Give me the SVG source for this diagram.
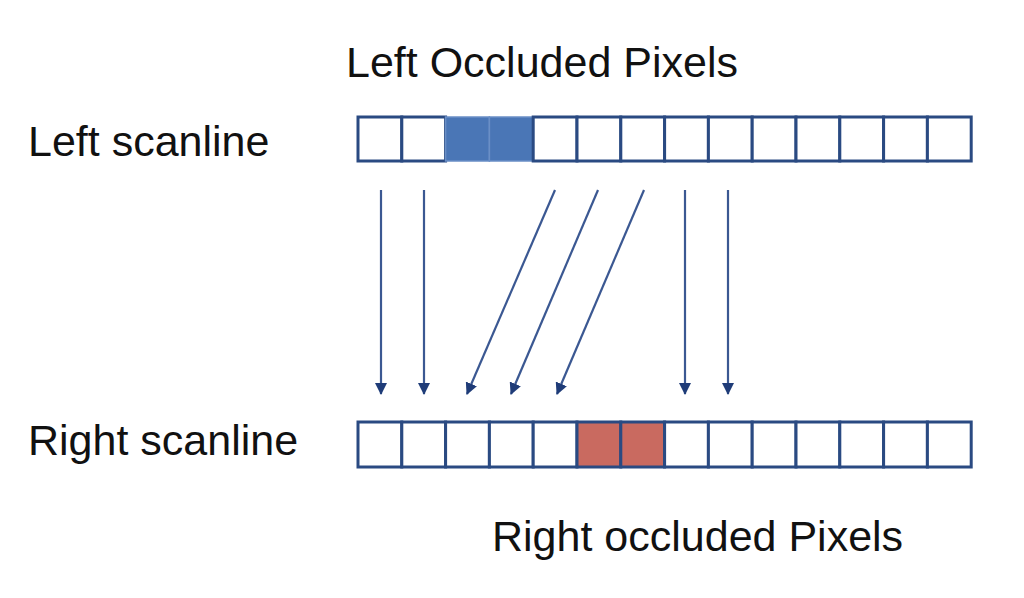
<svg xmlns="http://www.w3.org/2000/svg" width="1024" height="598" viewBox="0 0 1024 598">
<style>
.lbl{font-family:"Liberation Sans",Arial,sans-serif;font-size:43px;fill:#111}
.c{fill:#fff;stroke:#2a4a82;stroke-width:3}
.b{fill:#4a76b6;stroke:#6a8fc6;stroke-width:1.5}
.r{fill:#c96a60;stroke:#2a4a82;stroke-width:3}
.a{stroke:#3b5892;stroke-width:2.2;fill:none;marker-end:url(#ah)}
</style>
<defs>
<marker id="ah" viewBox="0 0 12 12" refX="11" refY="6" markerWidth="12" markerHeight="12" markerUnits="userSpaceOnUse" orient="auto">
<path d="M0,0 L12,6 L0,12 Z" fill="#1f3c78"/>
</marker>
</defs>
<rect width="1024" height="598" fill="#fff"/>
<text class="lbl" x="346" y="77">Left Occluded Pixels</text>
<text class="lbl" x="28" y="156">Left scanline</text>
<text class="lbl" x="28" y="455">Right scanline</text>
<text class="lbl" x="492" y="551">Right occluded Pixels</text>
<g id="left-scanline">
<rect class="c" x="358" y="117" width="43.8" height="44"/>
<rect class="c" x="401.8" y="117" width="43.8" height="44"/>
<rect class="b" x="445.6" y="117" width="43.8" height="44"/>
<rect class="b" x="489.4" y="117" width="43.8" height="44"/>
<rect class="c" x="533.2" y="117" width="43.8" height="44"/>
<rect class="c" x="577" y="117" width="43.8" height="44"/>
<rect class="c" x="620.8" y="117" width="43.8" height="44"/>
<rect class="c" x="664.6" y="117" width="43.8" height="44"/>
<rect class="c" x="708.4" y="117" width="43.8" height="44"/>
<rect class="c" x="752.2" y="117" width="43.8" height="44"/>
<rect class="c" x="796" y="117" width="43.8" height="44"/>
<rect class="c" x="839.8" y="117" width="43.8" height="44"/>
<rect class="c" x="883.6" y="117" width="43.8" height="44"/>
<rect class="c" x="927.4" y="117" width="43.8" height="44"/>
</g>
<g id="right-scanline">
<rect class="c" x="358" y="422" width="43.8" height="45"/>
<rect class="c" x="401.8" y="422" width="43.8" height="45"/>
<rect class="c" x="445.6" y="422" width="43.8" height="45"/>
<rect class="c" x="489.4" y="422" width="43.8" height="45"/>
<rect class="c" x="533.2" y="422" width="43.8" height="45"/>
<rect class="r" x="577" y="422" width="43.8" height="45"/>
<rect class="r" x="620.8" y="422" width="43.8" height="45"/>
<rect class="c" x="664.6" y="422" width="43.8" height="45"/>
<rect class="c" x="708.4" y="422" width="43.8" height="45"/>
<rect class="c" x="752.2" y="422" width="43.8" height="45"/>
<rect class="c" x="796" y="422" width="43.8" height="45"/>
<rect class="c" x="839.8" y="422" width="43.8" height="45"/>
<rect class="c" x="883.6" y="422" width="43.8" height="45"/>
<rect class="c" x="927.4" y="422" width="43.8" height="45"/>
</g>
<g id="connectors">
<line class="a" x1="381" y1="190" x2="381" y2="394"/>
<line class="a" x1="424" y1="190" x2="424" y2="394"/>
<line class="a" x1="555" y1="190" x2="467" y2="394"/>
<line class="a" x1="598" y1="190" x2="511" y2="394"/>
<line class="a" x1="644" y1="190" x2="557" y2="394"/>
<line class="a" x1="685" y1="190" x2="685" y2="394"/>
<line class="a" x1="728" y1="190" x2="728" y2="394"/>
</g>
</svg>
